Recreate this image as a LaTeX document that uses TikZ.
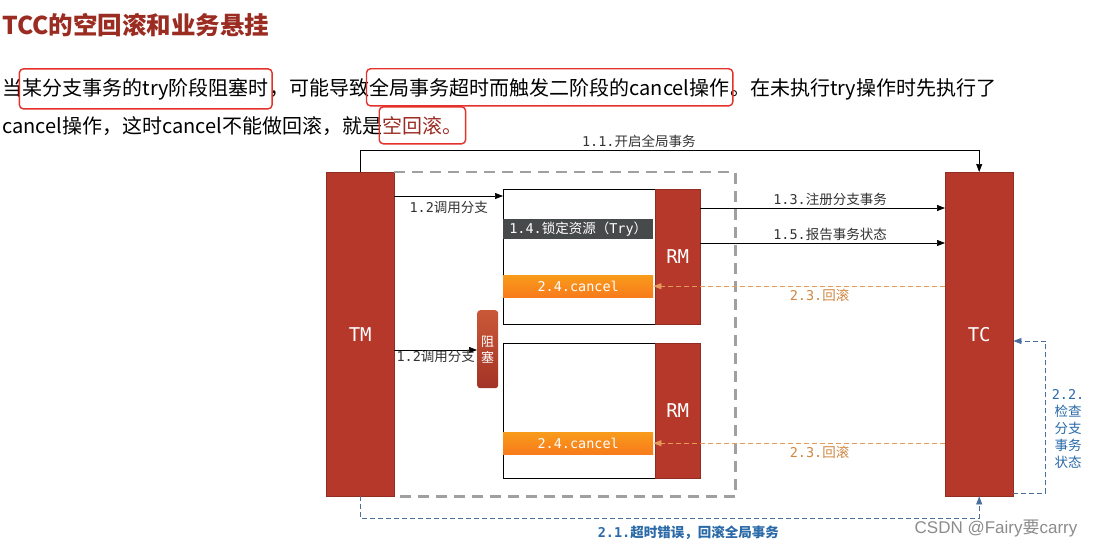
\documentclass[tikz,border=0pt]{standalone}
\usepackage{fontspec}
\setmainfont{Noto Sans CJK SC}
\newfontfamily\monof{DejaVu Sans Mono}
\newfontfamily\wmfont{Liberation Sans}
\usetikzlibrary{arrows.meta, positioning, fit, calc}
\definecolor{tred}{HTML}{B5382A}
\definecolor{ttitle}{HTML}{9B2C22}
\definecolor{tmark}{HTML}{E5312B}
\definecolor{tdark}{HTML}{474A4B}
\definecolor{torange}{HTML}{F7891F}
\definecolor{tline}{HTML}{E59A5A}
\definecolor{tlabel}{HTML}{CF8640}
\definecolor{tblue}{HTML}{4C6E9C}
\definecolor{tbluetext}{HTML}{2A6AA8}
\definecolor{tgray}{HTML}{A0A0A0}
\tikzset{
  para/.style={inner sep=0pt, font=\fontsize{20}{24}\selectfont, anchor=base west},
  markbox/.style={draw=tmark, line width=1.4pt, rounded corners=4pt, inner xsep=3pt, inner ysep=9pt},
  actor/.style={fill=tred, draw=tred!80!black, line width=0.4pt, anchor=north west, inner sep=0pt,
                text=white, font=\monof\fontsize{19}{22}\selectfont},
  branch/.style={draw=black, line width=0.8pt, fill=white, anchor=north west, inner sep=0pt,
                 minimum width=152pt, minimum height=135pt},
  barbox/.style={anchor=north west, inner sep=0pt, minimum width=150pt, text=white,
                 font=\fontsize{13.5}{16}\selectfont},
  trybar/.style={barbox, fill=tdark, minimum height=20pt},
  cancelbar/.style={barbox, top color=torange!85!yellow, bottom color=torange!90!red, minimum height=22pt},
  lbl/.style={font=\fontsize{13.5}{16}\selectfont, text=black!80, inner sep=1pt},
  arr/.style={-{Triangle[length=8pt,width=6pt]}, line width=0.7pt, black},
  rbarr/.style={-{Triangle[length=8pt,width=6pt]}, tline, dash pattern=on 5pt off 3pt, line width=0.8pt},
  barr/.style={-{Triangle[length=8pt,width=6pt]}, tblue, dash pattern=on 5pt off 3pt, line width=0.8pt},
  gdash/.style={draw=tgray, line width=2.6pt, dash pattern=on 11pt off 7pt},
}

\begin{document}
\begin{tikzpicture}[x=1pt, y=-1pt]
  \useasboundingbox[fill=white] (0,0) rectangle (1095,547);

  % title and text
  \node[para, font=\bfseries\fontsize{24.5}{28}\selectfont, text=ttitle] (title) at (2,34) {TCC的空回滚和业务悬挂};

  \node[para] (p1) at (2,95) {当};
  \node[para] (p2) at (p1.base east) {某分支事务的try阶段阻塞时};
  \node[para] (p3) at (p2.base east) {，可能导致};
  \node[para] (p4) at (p3.base east) {全局事务超时而触发二阶段的cancel操作};
  \node[para] (p5) at (p4.base east) {。在未执行try操作时先执行了};
  \node[para] (q1) at (2,133) {cancel操作，这时cancel不能做回滚，就是};
  \node[para, text=ttitle] (q2) at (q1.base east) {空回滚。};

  \node[markbox, fit=(p2)] (m1) {};
  \node[markbox, fit=(p4)] (m2) {};
  \node[markbox, fit=(q2)] (m3) {};

  % actors
  \node[actor, minimum width=68pt, minimum height=324pt] (tm) at (326,172) {TM};
  \node[actor, minimum width=68pt, minimum height=324pt] (tc) at (945,172) {TC};

  % branches
  \node[branch] (b1) at (503,189) {};
  \node[trybar] (try1) at (503,219) {{\monof 1.4.}锁定资源（{\monof Try}）};
  \node[cancelbar] (c1) at (503,275) {\monof 2.4.cancel};
  \node[actor, minimum width=45pt, minimum height=135pt] (rm1) at (655,189) {RM};

  \node[branch] (b2) at (503,343) {};
  \node[cancelbar] (c2) at (503,432) {\monof 2.4.cancel};
  \node[actor, minimum width=45pt, minimum height=135pt] (rm2) at (655,343) {RM};

  \node[anchor=north west, minimum width=21pt, minimum height=78pt, inner sep=0pt, rounded corners=3pt,
        top color=tred!80!orange!90!white, bottom color=tred!90!black, text=white, align=center,
        font=\fontsize{13}{16}\selectfont] (blk) at (477,310) {阻\\塞};

  \draw[gdash] (tm.north east) -| ([xshift=35pt]rm2.east |- tm.south) -- (tm.south east);

  % connectors
  \draw[arr] (tm.north) -- ++(0,-22) -| node[lbl, pos=0.225, above=1pt] {{\monof 1.1.}开启全局事务} (tc.north);
  \draw[arr] ([yshift=-24pt]tm.north east) -- ([yshift=-7pt]b1.north west)
    node[lbl, midway, below=4pt] {{\monof 1.2}调用分支};
  \draw[arr] ([yshift=-19pt]rm1.north east) coordinate (s13) -- (s13 -| tc.west)
    node[lbl, pos=0.53, above=1pt] {{\monof 1.3.}注册分支事务};
  \draw[arr] ([yshift=-54pt]rm1.north east) coordinate (s15) -- (s15 -| tc.west)
    node[lbl, pos=0.53, above=1pt] {{\monof 1.5.}报告事务状态};
  \draw[rbarr] (tc.west |- c1.east) -- (c1.east)
    node[lbl, pos=0.43, below=1pt, text=tlabel] {{\monof 2.3.}回滚};
  \draw[rbarr] (tc.west |- c2.east) -- (c2.east)
    node[lbl, pos=0.43, below=1pt, text=tlabel] {{\monof 2.3.}回滚};
  \draw[arr] ([yshift=-178pt]tm.north east) coordinate (s12) -- (s12 -| blk.west)
    node[lbl, midway, below=-1pt] {{\monof 1.2}调用分支};

  \draw[barr] (tm.south) -- ++(0,22) -| node[lbl, pos=0.265, below=6pt, text=tbluetext, font=\bfseries\fontsize{13.5}{16}\selectfont]
    {{\monof 2.1.}超时错误，回滚全局事务} (tc.south);
  \draw[barr] ([yshift=3pt]tc.south east) -- ++(32,0) |- ([yshift=-169pt]tc.north east);
  \node[lbl, text=tbluetext, align=center, anchor=north, font=\fontsize{13.5}{17}\selectfont] (l22) at (1068,388)
    {{\monof 2.2.}\\检查\\分支\\事务\\状态};

  \node[font=\wmfont\fontsize{17}{20}\selectfont, text=black!45] (wm) at (996,528) {CSDN @Fairy{\rmfamily 要}carry};
\end{tikzpicture}
\end{document}
